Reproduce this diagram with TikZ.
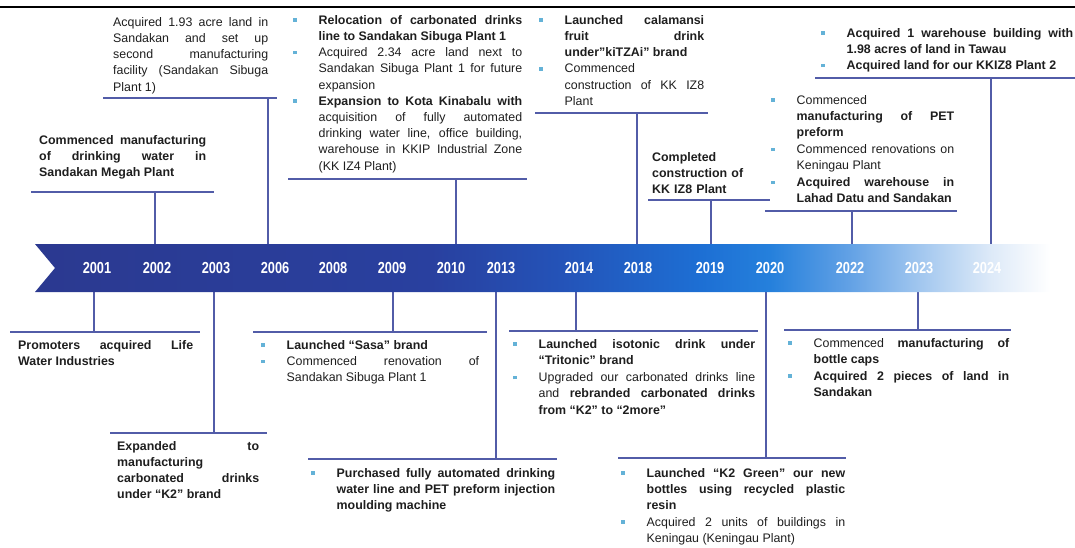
\documentclass[tikz,border=0pt]{standalone}
\usepackage{fontspec}
\setmainfont{Liberation Sans}
\newfontfamily\yrfont[FakeStretch=0.8]{Liberation Sans}
\definecolor{txtc}{RGB}{30,30,30}
\definecolor{linec}{RGB}{82,92,168}
\definecolor{bulc}{RGB}{100,178,215}
\definecolor{b0}{RGB}{43,57,144}
\definecolor{b1}{RGB}{41,64,159}
\definecolor{b2}{RGB}{36,83,184}
\definecolor{b3}{RGB}{29,111,212}
\definecolor{b4}{RGB}{37,128,220}
\definecolor{b5}{RGB}{98,161,229}
\definecolor{b6}{RGB}{162,199,239}
\definecolor{b7}{RGB}{220,233,248}
\pgfdeclarehorizontalshading{banner}{100bp}{color(0bp)=(b0); color(25bp)=(b0); color(44.5bp)=(b1); color(50.9bp)=(b2); color(57.8bp)=(b3); color(61.2bp)=(b4); color(65.1bp)=(b5); color(68.6bp)=(b6); color(72bp)=(b7); color(75bp)=(white); color(100bp)=(white)}
\tolerance=10000
\hyphenpenalty=10000
\hbadness=10000
\newlength\bind \setlength\bind{25.5pt}
\newcommand\bitem[1]{\hbox to\bind{\hspace{0.2pt}\textcolor{bulc}{\rule[2.2pt]{3.6pt}{3.6pt}}\hfil}\parbox[t]{\dimexpr\linewidth-\bind\relax}{#1}}
\newcommand\tlmark[6]{%
  \coordinate (#1-l) at (#2,#4);
  \coordinate (#1-r) at (#3,#4);
  \coordinate (#1-k) at (#5,#4);
  \coordinate (#1-b) at (#5,#6);
  \draw[ln] (#1-l) -- (#1-r);
  \draw[ln] (#1-k) -- (#1-b);}
\begin{document}
\begin{tikzpicture}[x=1pt,y=-1pt,
  txt/.style={inner sep=0pt, anchor=base west, align=justify, font=\fontsize{12.4}{16.3}\selectfont, text=txtc},
  ln/.style={draw=linec, line width=1.2pt},
  yr/.style={font=\yrfont\bfseries\fontsize{16}{16}\selectfont, text=white, inner sep=0pt}]
\useasboundingbox (0,0) rectangle (1075,547);
\draw[line width=1.5pt] (0,7) -- (1075,7);

% top connectors
\tlmark{c2006}{103}{277}{98}{268}{244}
\tlmark{c2002}{31}{214}{192}{155}{244}
\tlmark{c2010}{288}{527}{179}{456}{244}
\tlmark{c2018}{535}{708}{113}{637}{244}
\tlmark{c2019}{648}{770}{200}{711}{244}
\tlmark{c2022}{765}{957}{211}{852}{244}
\tlmark{c2024}{815}{1075}{78}{991}{244}
% bottom connectors
\tlmark{c2001}{10}{200}{332}{94}{292}
\tlmark{c2003}{110}{267}{433}{214}{292}
\tlmark{c2009}{253}{487}{332}{393}{292}
\tlmark{c2013}{308}{557}{459}{496}{292}
\tlmark{c2014}{509}{758}{331}{576}{292}
\tlmark{c2020}{618}{846}{458}{766}{292}
\tlmark{c2023}{784}{1011}{330}{918}{292}

% banner
\shade[shading=banner] (35,244) -- (1050,244) -- (1050,292) -- (35,292) -- (55,268) -- cycle;

\foreach \yy/\xx in {2001/97,2002/157,2003/216,2006/275,2008/333,2009/392,2010/451,2013/501,2014/579,2018/638,2019/710,2020/770,2022/850,2023/919,2024/987}
  \node[yr] (y\yy) at (\xx,268) {\yy};

% top texts
\node[txt, text width=155pt] (e2006) at (113,26) {Acquired 1.93 acre land in\linebreak Sandakan and set up\linebreak second manufacturing\linebreak facility (Sandakan Sibuga\linebreak Plant 1)};
\node[txt, text width=167pt] (e2002) at (39,144) {\textbf{Commenced manufacturing\linebreak of drinking water in\linebreak Sandakan Megah Plant}};

\node[txt, text width=229pt] (e2010a) at (293,24) {\bitem{\textbf{Relocation of carbonated drinks\linebreak line to Sandakan Sibuga Plant 1}}};
\node[txt, text width=229pt] (e2010b) at (293,56.5) {\bitem{Acquired 2.34 acre land next to\linebreak Sandakan Sibuga Plant 1 for future\linebreak expansion}};
\node[txt, text width=229pt] (e2010c) at (293,105) {\bitem{\textbf{Expansion to Kota Kinabalu with}\linebreak acquisition of fully automated\linebreak drinking water line, office building,\linebreak warehouse in KKIP Industrial Zone\linebreak (KK IZ4 Plant)}};

\node[txt, text width=165pt] (e2018a) at (539,24) {\bitem{\textbf{Launched calamansi\linebreak fruit drink\linebreak under”kiTZAi” brand}}};
\node[txt, text width=165pt] (e2018b) at (539,72.8) {\bitem{Commenced\linebreak construction of KK IZ8\linebreak Plant}};

\node[txt, text width=120pt, align=left] (e2019) at (652,161) {\textbf{Completed\\construction of\\KK IZ8 Plant}};

\node[txt, text width=183pt] (e2022a) at (771,104) {\bitem{Commenced\linebreak \textbf{manufacturing of PET\linebreak preform}}};
\node[txt, text width=183pt] (e2022b) at (771,153.3) {\bitem{Commenced renovations on\linebreak Keningau Plant}};
\node[txt, text width=183pt] (e2022c) at (771,186.3) {\bitem{\textbf{Acquired warehouse in\linebreak Lahad Datu and Sandakan}}};

\node[txt, text width=252pt] (e2024a) at (821,37) {\bitem{\textbf{Acquired 1 warehouse building with\linebreak 1.98 acres of land in Tawau}}};
\node[txt, text width=252pt] (e2024b) at (821,69.3) {\bitem{\textbf{Acquired land for our KKIZ8 Plant 2}}};

% bottom texts
\node[txt, text width=175pt] (e2001) at (18,349) {\textbf{Promoters acquired Life\linebreak Water Industries}};
\node[txt, text width=142pt] (e2003) at (117,450) {\textbf{Expanded to\linebreak manufacturing\linebreak carbonated drinks\linebreak under “K2” brand}};

\node[txt, text width=218pt] (e2009a) at (261,349) {\bitem{\textbf{Launched “Sasa” brand}}};
\node[txt, text width=218pt] (e2009b) at (261,365.3) {\bitem{Commenced renovation of\linebreak Sandakan Sibuga Plant 1}};

\node[txt, text width=244pt] (e2013) at (311,477) {\bitem{\textbf{Purchased fully automated drinking\linebreak water line and PET preform injection\linebreak moulding machine}}};

\node[txt, text width=242pt] (e2014a) at (513,348) {\bitem{\textbf{Launched isotonic drink under\linebreak “Tritonic” brand}}};
\node[txt, text width=242pt] (e2014b) at (513,381.5) {\bitem{Upgraded our carbonated drinks line\linebreak and \textbf{rebranded carbonated drinks\linebreak from “K2” to “2more”}}};

\node[txt, text width=224pt] (e2020a) at (621,477) {\bitem{\textbf{Launched “K2 Green” our new\linebreak bottles using recycled plastic\linebreak resin}}};
\node[txt, text width=224pt] (e2020b) at (621,526) {\bitem{Acquired 2 units of buildings in\linebreak Keningau (Keningau Plant)}};

\node[txt, text width=221pt] (e2023a) at (788,347) {\bitem{Commenced \textbf{manufacturing of\linebreak bottle caps}}};
\node[txt, text width=221pt] (e2023b) at (788,380) {\bitem{\textbf{Acquired 2 pieces of land in\linebreak Sandakan}}};
\end{tikzpicture}
\end{document}
